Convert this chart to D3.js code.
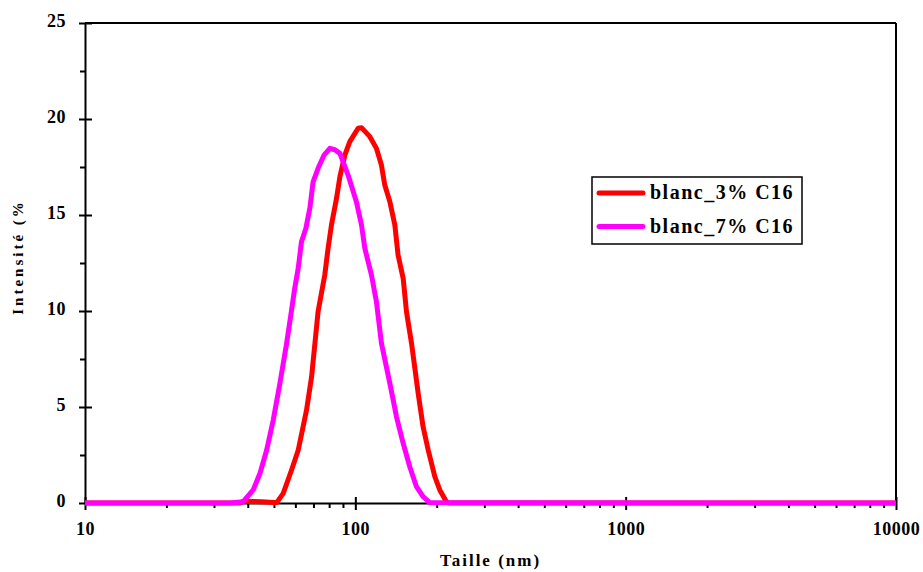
<!DOCTYPE html>
<html>
<head>
<meta charset="utf-8">
<script src="https://cdn.jsdelivr.net/npm/d3@7"></script>
<style>
  html, body { margin: 0; padding: 0; background: #fff; }
  svg { display: block; }
  text { font-family: "Liberation Serif", "Times New Roman", serif; font-weight: bold; fill: #000; }
</style>
</head>
<body>
<svg id="chart" width="923" height="572"></svg>
<script>
// ---- data ----
const seriesNames = ["blanc_3% C16", "blanc_7% C16"];
const seriesColors = ["#ff0000", "#ff00ff"];

const size3 = [10, 37.4, 38.4, 45, 50, 51.2, 54.1, 58.1, 61.5, 66.0, 68.9, 72.8, 77.1, 79.3, 81.6, 85.2, 87.7, 91.5, 95.4, 102.4, 105.4, 113.2, 119.7, 124.9, 128.5, 134.2, 140.0, 143.9, 150.3, 154.6, 161.4, 170.8, 178.1, 186.0, 196.8, 205.3, 217.2, 221, 10000];
const int3  = [0,  0,    0.08, 0.07, 0.03, 0.02, 0.5, 1.72, 2.76, 4.84, 6.58, 9.96, 11.88, 13.27, 14.48, 15.87, 17.0, 18.13, 18.82, 19.52, 19.55, 19.08, 18.47, 17.6, 16.56, 15.69, 14.48, 12.92, 11.7, 9.96, 8.32, 5.71, 3.97, 2.76, 1.37, 0.68, 0.07, 0, 0];

const size7 = [10, 34.4, 38.5, 41.9, 44.4, 47.0, 49.7, 52.6, 55.7, 58.1, 59.7, 61.5, 63.2, 65.6, 67.9, 69.8, 72.8, 76.5, 80.5, 84.0, 87.7, 94.0, 100.9, 105.4, 108.4, 114.7, 119.7, 124.9, 134.2, 142.0, 150.3, 159.0, 168.3, 178.1, 188.5, 10000];
const int7  = [0,  0,    0.07, 0.68, 1.55, 2.76, 4.32, 6.23, 8.32, 10.05, 11.2, 12.24, 13.6, 14.3, 15.36, 16.73, 17.43, 18.1, 18.47, 18.4, 18.21, 17.08, 15.69, 14.48, 13.27, 11.88, 10.48, 8.32, 6.23, 4.49, 3.11, 1.89, 0.85, 0.33, 0.02, 0];

const xMajorTicks = [10, 100, 1000, 10000];
const xMinorTicks = [20,30,40,50,60,70,80,90,200,300,400,500,600,700,800,900,2000,3000,4000,5000,6000,7000,8000,9000];
const yMajorTicks = [0, 5, 10, 15, 20, 25];
const yMinorTicks = [2.5, 7.5, 12.5, 17.5, 22.5];

const xTitle = "Taille (nm)";
const yTitle = "Intensité (%";

// ---- layout ----
const svg = d3.select("#chart");
const L = 85, R = 896, T = 23, B = 503;

const x = d3.scaleLog().domain([10, 10000]).range([L, R]);
const y = d3.scaleLinear().domain([0, 25]).range([B, T]);

// frame (top and right)
svg.append("line").attr("x1", L).attr("x2", R).attr("y1", y(25)).attr("y2", y(25))
  .attr("stroke", "#000").attr("stroke-width", 2);
svg.append("line").attr("x1", x(10000)).attr("x2", x(10000)).attr("y1", T).attr("y2", B)
  .attr("stroke", "#000").attr("stroke-width", 2);

// y axis
const gyMinor = svg.append("g").attr("transform", `translate(${L},0)`)
  .call(d3.axisLeft(y).tickValues(yMinorTicks).tickSize(5).tickSizeOuter(0).tickFormat(""));
gyMinor.select(".domain").remove();
gyMinor.selectAll("line").attr("stroke-width", 2);

const gy = svg.append("g").attr("transform", `translate(${L},0)`)
  .call(d3.axisLeft(y).tickValues(yMajorTicks).tickSize(6).tickPadding(13).tickSizeOuter(0));
gy.select(".domain").attr("stroke-width", 2);
gy.selectAll(".tick line").attr("x1", 7).attr("stroke-width", 2);
gy.selectAll(".tick text").attr("font-size", 18).attr("dy", "0.2em")
  .style("font-family", "'Liberation Serif', serif").style("font-weight", "bold").attr("letter-spacing", 0.5);

// x axis
const gxMinor = svg.append("g").attr("transform", `translate(0,${B})`)
  .call(d3.axisBottom(x).tickValues(xMinorTicks).tickSize(5).tickSizeOuter(0).tickFormat(""));
gxMinor.select(".domain").remove();
gxMinor.selectAll("line").attr("stroke-width", 2);

const gx = svg.append("g").attr("transform", `translate(0,${B})`)
  .call(d3.axisBottom(x).tickValues(xMajorTicks).tickSize(7).tickPadding(12).tickSizeOuter(0).tickFormat(d3.format("d")));
gx.select(".domain").attr("stroke-width", 2);
gx.selectAll(".tick line").attr("y1", -6).attr("stroke-width", 2);
gx.selectAll(".tick text").attr("font-size", 18)
  .style("font-family", "'Liberation Serif', serif").style("font-weight", "bold").attr("letter-spacing", 0.5);

// axis titles
svg.append("text").attr("x", (L + R) / 2).attr("y", 566)
  .attr("text-anchor", "middle").attr("font-size", 17).attr("letter-spacing", 2).text(xTitle);
svg.append("text").attr("transform", `translate(23,${257}) rotate(-90)`)
  .attr("text-anchor", "middle").attr("font-size", 15).attr("letter-spacing", 3).text(yTitle);

// series
const line = d3.line().x(d => x(d[0])).y(d => y(d[1]));
const series = [
  { name: seriesNames[0], color: seriesColors[0], pts: d3.zip(size3, int3) },
  { name: seriesNames[1], color: seriesColors[1], pts: d3.zip(size7, int7) }
];
svg.append("g").selectAll("path").data(series).join("path")
  .attr("d", d => line(d.pts))
  .attr("fill", "none").attr("stroke", d => d.color).attr("stroke-width", 5)
  .attr("stroke-linejoin", "round");

// legend
const lg = svg.append("g").attr("transform", "translate(592,177)");
lg.append("rect").attr("width", 210).attr("height", 67).attr("fill", "#fff")
  .attr("stroke", "#000").attr("stroke-width", 1.5);
const items = lg.selectAll("g.item").data(series).join("g").attr("class", "item")
  .attr("transform", (d, i) => `translate(0,${16 + i * 33.5})`);
items.append("line").attr("x1", 7).attr("x2", 51).attr("y1", 0).attr("y2", 0)
  .attr("stroke", d => d.color).attr("stroke-width", 5).attr("stroke-linecap", "round");
items.append("text").attr("x", 58).attr("y", 6).attr("font-size", 20).attr("letter-spacing", 1.5)
  .text(d => d.name);
</script>
</body>
</html>
